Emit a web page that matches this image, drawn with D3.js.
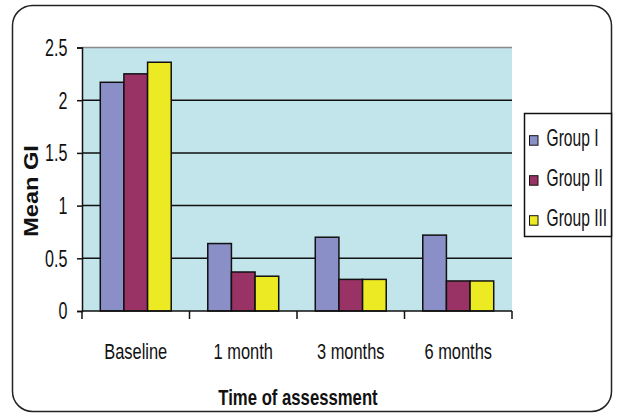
<!DOCTYPE html>
<html>
<head>
<meta charset="utf-8">
<script src="https://cdn.jsdelivr.net/npm/d3@7"></script>
<style>
  html, body { margin: 0; padding: 0; background: #fff; }
  svg { display: block; }
  text { font-family: "Liberation Sans", Arial, sans-serif; fill: #111; }
  .bold { font-weight: bold; }
</style>
</head>
<body>
<svg id="chart" width="617" height="417"></svg>
<script>
// Mean gingival index per group at each assessment
const categories = ["Baseline", "1 month", "3 months", "6 months"];
const groups = ["Group I", "Group II", "Group III"];
const groupI   = [2.17, 0.64, 0.70, 0.72];
const groupII  = [2.25, 0.37, 0.30, 0.285];
const groupIII = [2.36, 0.33, 0.30, 0.285];
const yTicks = [0, 0.5, 1, 1.5, 2, 2.5];
const colors = ["#8b8fc8", "#993366", "#ecea22"];

const seriesValues = [groupI, groupII, groupIII];
const rows = categories.map((c, i) => ({
  category: c,
  values: groups.map((g, j) => ({ group: g, value: seriesValues[j][i], idx: j }))
}));

const svg = d3.select("#chart");
const plot = { left: 82, right: 512, top: 47.5, bottom: 311 };

// Condensed text: horizontally squeezed glyphs
function label(parent, txt, x, y, size, sx, anchor, cls) {
  return parent.append("text")
    .attr("class", cls || null)
    .attr("transform", `translate(${x},${y}) scale(${sx},1)`)
    .attr("text-anchor", anchor)
    .attr("font-size", size)
    .text(txt);
}

// Rounded outer frame
svg.append("rect")
  .attr("x", 12.5).attr("y", 5.5)
  .attr("width", 599).attr("height", 406)
  .attr("rx", 20).attr("ry", 20)
  .attr("fill", "#fff").attr("stroke", "#222").attr("stroke-width", 1.5);

const x0 = d3.scaleBand().domain(categories).range([plot.left, plot.right]).paddingInner(0.34).paddingOuter(0.17);
const x1 = d3.scaleBand().domain(groups).range([0, x0.bandwidth()]);
const y = d3.scaleLinear().domain([0, 2.5]).range([plot.bottom, plot.top]);

// Plot background
svg.append("rect")
  .attr("x", plot.left).attr("y", plot.top)
  .attr("width", plot.right - plot.left).attr("height", plot.bottom - plot.top)
  .attr("fill", "#c2e5ec");

// Gridlines
svg.append("g")
  .selectAll("line")
  .data(yTicks.filter(t => t > 0))
  .join("line")
  .attr("x1", plot.left).attr("x2", plot.right)
  .attr("y1", d => y(d)).attr("y2", d => y(d))
  .attr("stroke", d => d === 2.5 ? "#8a8a8a" : "#111")
  .attr("stroke-width", 1.5);

// Bars
svg.append("g")
  .selectAll("g")
  .data(rows)
  .join("g")
  .attr("transform", d => `translate(${x0(d.category)},0)`)
  .selectAll("rect")
  .data(d => d.values)
  .join("rect")
  .attr("x", d => x1(d.group))
  .attr("y", d => y(d.value))
  .attr("width", x1.bandwidth())
  .attr("height", d => y(0) - y(d.value))
  .attr("fill", d => colors[d.idx])
  .attr("stroke", "#111")
  .attr("stroke-width", 1.5);

// Y axis line and ticks
const yAxis = svg.append("g")
  .attr("transform", `translate(${plot.left},0)`)
  .call(d3.axisLeft(y).tickValues(yTicks).tickFormat("").tickSize(5));
yAxis.select(".domain").attr("stroke", "#111").attr("stroke-width", 1.5);
yAxis.selectAll(".tick line").attr("stroke", "#111").attr("stroke-width", 1.5);
yTicks.forEach(t => {
  label(svg, d3.format("")(t), 67.5, y(t) + 8.3, 23, 0.7, "end");
});

// X axis: ticks at category boundaries
const xAxisG = svg.append("g").attr("transform", `translate(0,${plot.bottom})`);
xAxisG.append("line")
  .attr("x1", plot.left).attr("x2", plot.right)
  .attr("stroke", "#111").attr("stroke-width", 1.5);
const boundaries = d3.range(categories.length + 1).map(i => plot.left + i * x0.step());
xAxisG.selectAll(".bt")
  .data(boundaries)
  .join("line")
  .attr("x1", d => d).attr("x2", d => d)
  .attr("y1", 0).attr("y2", 8)
  .attr("stroke", "#111").attr("stroke-width", 1.5);
categories.forEach(c => {
  label(svg, c, x0(c) + x0.bandwidth() / 2, 358.8, 22.5, 0.73, "middle");
});

// Axis titles
label(svg, "Time of assessment", 298, 404.5, 22, 0.76, "middle", "bold");

svg.append("text")
  .attr("class", "bold")
  .attr("transform", `translate(38,191) rotate(-90) scale(1.18,1)`)
  .attr("text-anchor", "middle")
  .attr("font-size", 20)
  .text("Mean GI");

// Legend
const legend = svg.append("g");
legend.append("rect")
  .attr("x", 524.5).attr("y", 113.5)
  .attr("width", 87).attr("height", 123)
  .attr("fill", "#fff").attr("stroke", "#111").attr("stroke-width", 1.5);
groups.forEach((g, i) => {
  const yy = 145.7 + i * 40;
  legend.append("rect")
    .attr("x", 529.5).attr("y", yy - 10).attr("width", 8.5).attr("height", 9.5)
    .attr("fill", colors[i]).attr("stroke", "#111").attr("stroke-width", 1);
  label(legend, g, 546.5, yy, 24, 0.65, "start");
});
</script>
</body>
</html>
